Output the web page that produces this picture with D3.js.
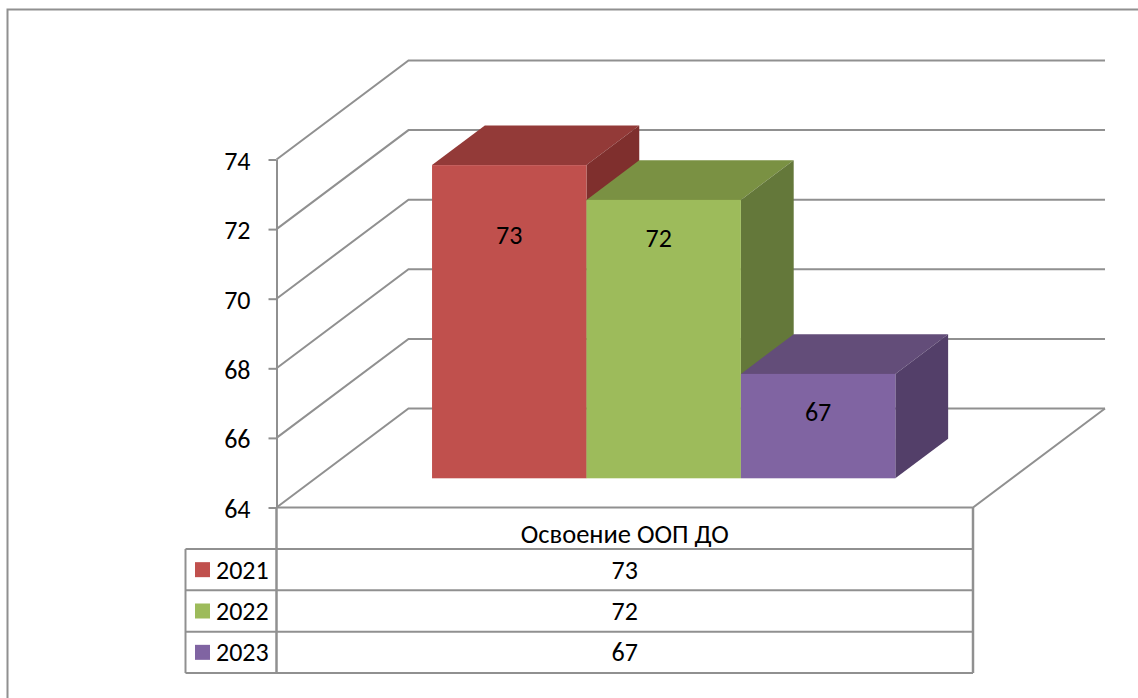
<!DOCTYPE html>
<html>
<head>
<meta charset="utf-8">
<script src="https://cdn.jsdelivr.net/npm/d3@7"></script>
<style>
  html, body { margin: 0; padding: 0; background: #fff; }
  svg { display: block; }
  text { font-family: Carlito, Lato, "Open Sans", sans-serif; font-size: 26px; fill: #000; }
</style>
</head>
<body>
<div id="chart"></div>
<script>
// Chart values
var category = "Освоение ООП ДО";
var years = ["2021", "2022", "2023"];
var values = [73, 72, 67];
var yTicks = [64, 66, 68, 70, 72, 74];

var width = 1138, height = 698;
var lineColor = "#909090";
var lineWidth = 2;

// Front, top and side colours for each series
var frontColors = ["#c0504d", "#9dbb5b", "#8064a2"];
var topColors = ["#933a38", "#7a9143", "#634d79"];
var sideColors = ["#7f2f2d", "#64783a", "#533f69"];

var svg = d3.select("#chart").append("svg")
    .attr("width", width)
    .attr("height", height);

// Scales on the front plane of the chart box
var y = d3.scaleLinear().domain([64, 74]).range([507.5, 159.5]);
var xLeft = 276.5, xRight = 973;
var depthX = 132, depthY = -99;   // offset of the back wall

// Bars sit a little behind the front plane
var barDepth0 = 0.295, barDepth1 = 0.695;
var x = d3.scaleBand().domain(years)
    .range([xLeft + barDepth0 * depthX, xRight + barDepth0 * depthX])
    .paddingInner(0)
    .paddingOuter(0.755);

function poly(points) {
    return points.map(function(p) { return p.join(","); }).join(" ");
}

// Outer border, runs off the page on the right and bottom
svg.append("path")
    .attr("d", "M" + width + ",9.5H7.5V" + height)
    .attr("fill", "none")
    .attr("stroke", lineColor)
    .attr("stroke-width", lineWidth);

var grid = svg.append("g")
    .attr("fill", "none")
    .attr("stroke", lineColor)
    .attr("stroke-width", lineWidth);

// Side wall and back wall gridlines
yTicks.forEach(function(t) {
    grid.append("polyline")
        .attr("points", poly([
            [xLeft, y(t)],
            [xLeft + depthX, y(t) + depthY],
            [xRight + depthX, y(t) + depthY]
        ]));
});

// Floor edges
grid.append("polyline")
    .attr("points", poly([
        [xLeft, y(64)],
        [xRight, y(64)],
        [xRight + depthX, y(64) + depthY]
    ]));

// Value axis
var axis = svg.append("g")
    .attr("transform", "translate(" + xLeft + ",0)")
    .call(d3.axisLeft(y).tickValues(yTicks).tickSize(8).tickPadding(18).tickSizeOuter(0));
axis.select(".domain").attr("stroke", lineColor).attr("stroke-width", lineWidth);
axis.selectAll(".tick line").attr("stroke", lineColor).attr("stroke-width", lineWidth);
axis.selectAll(".tick text")
    .attr("dy", "0.38em")
    .style("font-size", "26px")
    .style("font-family", "Carlito, Lato, 'Open Sans', sans-serif");

// Bars, drawn left to right so later ones cover earlier sides
var bars = svg.append("g");
var floorY = y(64) + barDepth0 * depthY;
var backX = (barDepth1 - barDepth0) * depthX;
var backY = (barDepth1 - barDepth0) * depthY;

years.forEach(function(yr, i) {
    var x0 = x(yr), x1 = x0 + x.bandwidth();
    var top = floorY - (y(64) - y(values[i]));

    bars.append("polygon")
        .attr("points", poly([[x0, top], [x0 + backX, top + backY], [x1 + backX, top + backY], [x1, top]]))
        .attr("fill", topColors[i]);
    bars.append("polygon")
        .attr("points", poly([[x1, top], [x1 + backX, top + backY], [x1 + backX, floorY + backY], [x1, floorY]]))
        .attr("fill", sideColors[i]);
    bars.append("rect")
        .attr("x", x0)
        .attr("y", top)
        .attr("width", x.bandwidth())
        .attr("height", floorY - top)
        .attr("fill", frontColors[i]);
});

// Data labels
var labelShiftX = [0, -5, 0];
var labelShiftY = [79, 47, 47];
years.forEach(function(yr, i) {
    var top = floorY - (y(64) - y(values[i]));
    svg.append("text")
        .attr("x", x(yr) + x.bandwidth() / 2 + labelShiftX[i])
        .attr("y", top + labelShiftY[i])
        .attr("text-anchor", "middle")
        .text(values[i]);
});

// Data table under the chart
var tableLeft = 185.5;
var rowY = d3.scaleBand().domain(years).range([549, 673]);
var table = svg.append("g")
    .attr("fill", "none")
    .attr("stroke", lineColor)
    .attr("stroke-width", lineWidth);

table.append("path").attr("d", "M" + xLeft + "," + y(64) + "V673").attr("stroke-width", 2.5);
table.append("path").attr("d", "M" + xRight + "," + y(64) + "V673").attr("stroke-width", 2.5);
table.append("path").attr("d", "M" + tableLeft + ",549V673");
table.append("path").attr("d", "M" + tableLeft + ",549H" + xRight);
years.forEach(function(yr) {
    table.append("path").attr("d", "M" + tableLeft + "," + (rowY(yr) + rowY.bandwidth()) + "H" + xRight);
});

var tableMid = (xLeft + xRight) / 2;
svg.append("text")
    .attr("x", tableMid)
    .attr("y", 543)
    .attr("text-anchor", "middle")
    .style("font-size", "26.5px")
    .text(category);

years.forEach(function(yr, i) {
    var mid = rowY(yr) + rowY.bandwidth() / 2;
    svg.append("rect")
        .attr("x", 195)
        .attr("y", mid - 7.5)
        .attr("width", 15)
        .attr("height", 15)
        .attr("fill", frontColors[i]);
    svg.append("text")
        .attr("x", 216)
        .attr("y", mid + 9)
        .text(yr);
    svg.append("text")
        .attr("x", tableMid)
        .attr("y", mid + 9)
        .attr("text-anchor", "middle")
        .text(values[i]);
});
</script>
</body>
</html>
